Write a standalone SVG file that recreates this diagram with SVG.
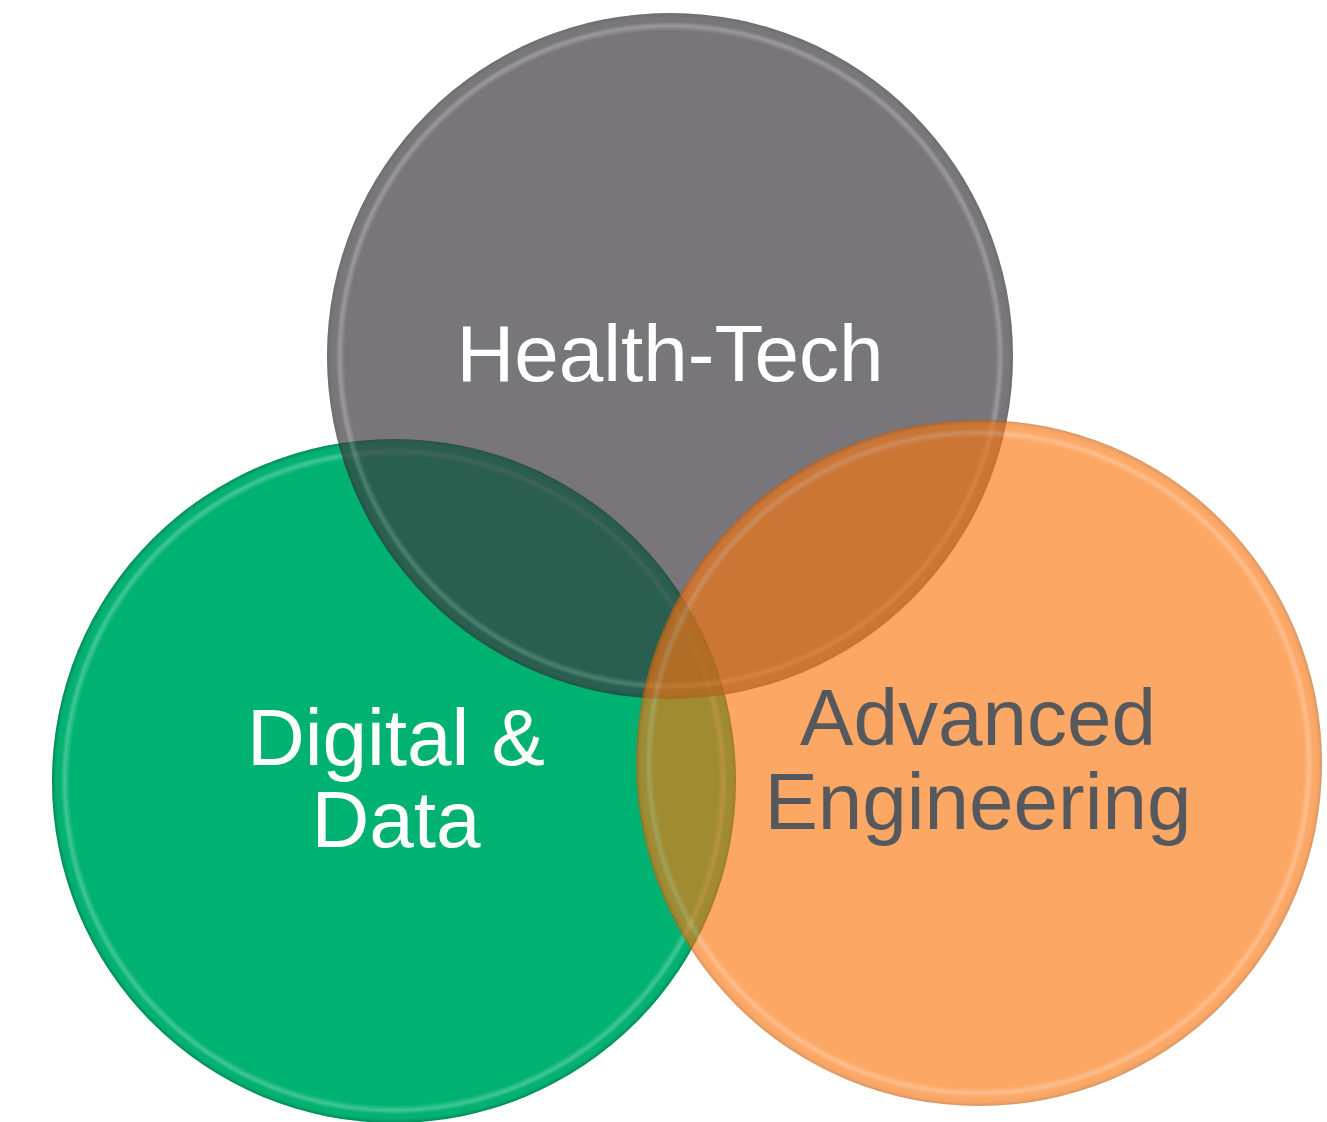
<svg xmlns="http://www.w3.org/2000/svg" width="1327" height="1122" viewBox="0 0 1327 1122">
  <defs>
    <radialGradient id="bevel" cx="0.5" cy="0.5" r="0.5">
      <stop offset="0" stop-color="#ffffff" stop-opacity="0"/>
      <stop offset="0.948" stop-color="#ffffff" stop-opacity="0"/>
      <stop offset="0.963" stop-color="#ffffff" stop-opacity="0.26"/>
      <stop offset="0.975" stop-color="#ffffff" stop-opacity="0"/>
      <stop offset="0.992" stop-color="#000000" stop-opacity="0.06"/>
      <stop offset="1" stop-color="#000000" stop-opacity="0.25"/>
    </radialGradient>
    <style>
      .label { font-family: "Liberation Sans", Arial, sans-serif; font-size: 80px; text-anchor: middle; }
      .light { fill: #ffffff; }
      .dark { fill: #55585c; }
      .bevel { fill: url(#bevel); }
    </style>
  </defs>
  <rect x="0" y="0" width="1327" height="1122" fill="#ffffff"/>

  <g id="node-digital-data">
    <circle cx="394" cy="781" r="342" fill="#00b271"/>
    <circle class="bevel" cx="394" cy="781" r="342"/>
  </g>

  <g id="node-health-tech">
    <g opacity="0.69">
      <circle cx="670" cy="356" r="343" fill="#3d393f"/>
      <circle class="bevel" cx="670" cy="356" r="343"/>
    </g>
  </g>

  <g id="node-advanced-engineering">
    <g opacity="0.635">
      <circle cx="979" cy="763" r="343" fill="#fc760e"/>
      <circle class="bevel" cx="979" cy="763" r="343"/>
    </g>
  </g>

  <g id="labels">
    <text class="label light" x="670" y="381">Health-Tech</text>
    <text class="label light" x="396" y="765">Digital &amp;</text>
    <text class="label light" x="396" y="847">Data</text>
    <text class="label dark" x="978" y="745">Advanced</text>
    <text class="label dark" x="978" y="829">Engineering</text>
  </g>
</svg>
